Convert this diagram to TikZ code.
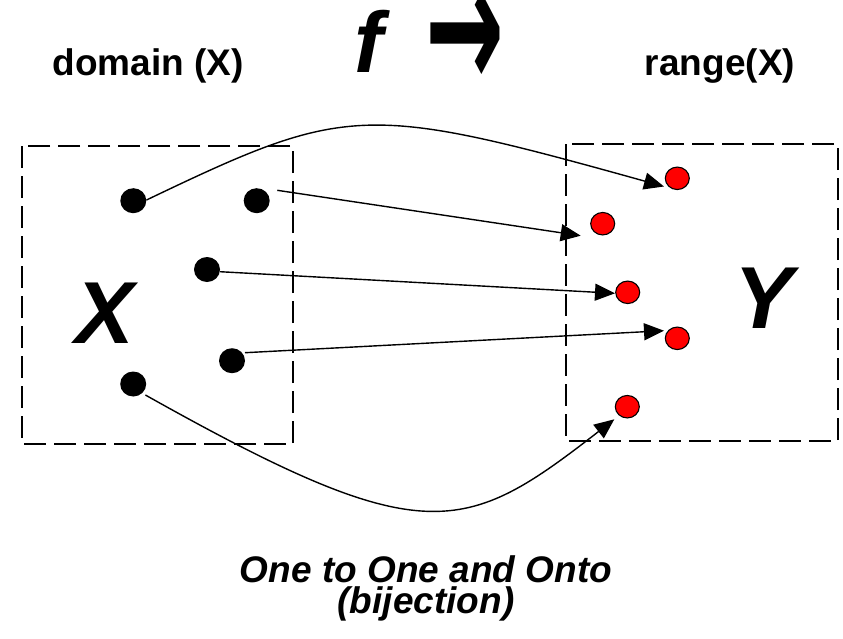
\documentclass[tikz,border=0pt]{standalone}
\usepackage{fontspec}
\usepackage{graphicx}
\setmainfont{Liberation Sans}
\newfontfamily\djv{DejaVu Sans}
\usetikzlibrary{arrows.meta,shapes.geometric}
\begin{document}
\begin{tikzpicture}[x=1pt,y=-1pt,
  bdot/.style={ellipse,fill=black,minimum width=26pt,minimum height=25pt,inner sep=0pt},
  rdot/.style={ellipse,fill=red,draw=black,line width=1.1pt,minimum width=24pt,minimum height=22.5pt,inner sep=0pt},
  arr/.style={line width=1.4pt,-{Triangle[length=20pt,width=17pt]}},
  setbox/.style={draw,line width=2.6pt,dash pattern=on 22pt off 8pt},
  lbl/.style={font=\bfseries\fontsize{37}{40}\selectfont,anchor=base,inner sep=0pt},
  bigletter/.style={font=\bfseries\itshape\fontsize{88}{100}\selectfont,anchor=base,inner sep=0pt},
  captext/.style={font=\bfseries\itshape\fontsize{37}{31}\selectfont,align=center,inner sep=0pt}]
\path[use as bounding box] (0,0) rectangle (843,638);

% boxes
\draw[setbox] (22,146) rectangle (293,444);
\draw[setbox] (566,144) rectangle (838,441);

% labels
\node[lbl] (dom) at (148,75) {domain (X)};
\node[lbl] (rng) at (720,75) {range(X)};
\node[font=\bfseries\itshape\fontsize{86}{90}\selectfont,anchor=base,inner sep=0pt] (f) at (369,72) {f};
\node[inner sep=0pt] (farrow) at (465,41) {\resizebox*{79pt}{98pt}{\djv\bfseries →}};
\node[bigletter] (X) at (105,343) {X};
\node[bigletter] (Y) at (764,328) {Y};
\node[captext] (cap) at (426,588.7) {One to One and Onto\\(bijection)};

% dots
\node[bdot] (b1) at (133.3,200.7) {};
\node[bdot] (b2) at (256.7,200.7) {};
\node[bdot] (b3) at (207,269.5) {};
\node[bdot] (b4) at (232,360.7) {};
\node[bdot] (b5) at (133.2,384) {};
\node[rdot] (r1) at (677.3,178.3) {};
\node[rdot] (r2) at (602.7,223.7) {};
\node[rdot] (r3) at (627.7,292.3) {};
\node[rdot] (r4) at (677.3,338.3) {};
\node[rdot] (r5) at (627.3,406.7) {};

% connector ends
\coordinate (s1) at (146.5,200);   \coordinate (e1) at (664,186.5);
\coordinate (s2) at (277.3,190.3); \coordinate (e2) at (580.7,235.7);
\coordinate (s3) at (220,271.7);   \coordinate (e3) at (615,293.3);
\coordinate (s4) at (245,352.7);   \coordinate (e4) at (664,330.7);
\coordinate (s5) at (145.4,395);   \coordinate (e5) at (614.3,419.3);

\draw[arr] (s1) .. controls (347,104) and (364,103) .. (e1);
\draw[arr] (s2) -- (e2);
\draw[arr] (s3) -- (e3);
\draw[arr] (s4) -- (e4);
\draw[arr] (s5) .. controls (425,552) and (464,536) .. (e5);
\end{tikzpicture}
\end{document}
